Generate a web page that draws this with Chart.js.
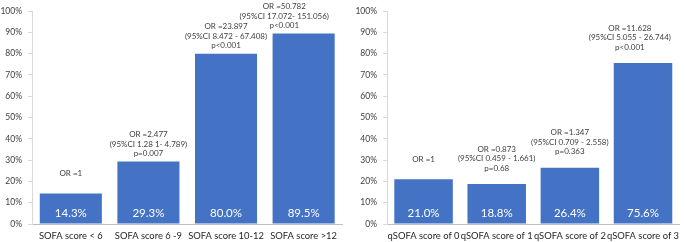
<!DOCTYPE html>
<html>
<head>
<meta charset="utf-8">
<script src="https://cdn.jsdelivr.net/npm/chart.js@4/dist/chart.umd.min.js"></script>
<style>
  html, body { margin: 0; padding: 0; background: #fff; }
  .box { position: absolute; top: 0; height: 242px; }
  #leftBox { left: 0; width: 343px; }
  #rightBox { left: 343px; width: 342px; }
</style>
</head>
<body>
<div class="box" id="leftBox"><canvas id="sofa"></canvas></div>
<div class="box" id="rightBox"><canvas id="qsofa"></canvas></div>
<script>
// données
const sofaLabels = ["SOFA score < 6", "SOFA score 6 -9", "SOFA score 10-12", "SOFA score >12"];
const sofaValues = [14.3, 29.3, 80.0, 89.5];
const sofaNotes = [
  ["OR =1"],
  ["OR =2.477", "(95%CI 1.28 1- 4.789)", "p=0.007"],
  ["OR =23.897", "(95%CI 8.472 - 67.408)", "p<0.001"],
  ["OR =50.782", "(95%CI 17.072- 151.056)", "p<0.001"]
];

const qsofaLabels = ["qSOFA score of 0", "qSOFA score of 1", "qSOFA score of 2", "qSOFA score of 3"];
const qsofaValues = [21.0, 18.8, 26.4, 75.6];
const qsofaNotes = [
  ["OR =1"],
  ["OR =0.873", "(95%CI 0.459 - 1.661)", "p=0.68"],
  ["OR =1.347", "(95%CI 0.709 - 2.558)", "p=0.363"],
  ["OR =11.628", "(95%CI 5.055 - 26.744)", "p<0.001"]
];

const yTicks = [0, 10, 20, 30, 40, 50, 60, 70, 80, 90, 100];

const FONT = "Lato, 'Noto Sans', sans-serif";

// plugin pour les textes au-dessus et dans les barres
const barText = {
  id: "barText",
  afterDatasetsDraw(chart, args, opts) {
    const ctx = chart.ctx;
    const meta = chart.getDatasetMeta(0);
    const values = chart.data.datasets[0].data;
    ctx.save();
    ctx.textAlign = "center";
    ctx.textBaseline = "middle";
    meta.data.forEach((bar, i) => {
      // valeur dans la barre
      ctx.fillStyle = "#ffffff";
      ctx.font = "11.5px " + FONT;
      ctx.fillText(values[i].toFixed(1) + "%", bar.x, bar.base - 10);
      // OR / IC / p
      const lines = opts.notes[i];
      ctx.fillStyle = "#404040";
      ctx.font = "8px " + FONT;
      const gap = lines.length === 1 ? 20 : opts.gap;
      // garder le bloc dans le canvas
      const w = Math.max(...lines.map(t => ctx.measureText(t).width));
      const x = Math.min(bar.x, chart.width - w / 2 - 14);
      lines.forEach((t, j) => {
        const y = bar.y - gap - (lines.length - 1 - j) * 9.5;
        ctx.fillText(t, x, y);
      });
    });
    ctx.restore();
  }
};

function makeChart(id, labels, values, notes, yWidth, gap) {
  return new Chart(document.getElementById(id), {
    type: "bar",
    data: {
      labels: labels,
      datasets: [{
        data: values,
        backgroundColor: "#4472c4",
        borderWidth: 0,
        barPercentage: 0.8,
        categoryPercentage: 1.0
      }]
    },
    options: {
      responsive: true,
      maintainAspectRatio: false,
      animation: false,
      layout: { padding: { top: 6, right: 0, bottom: 0, left: 0 } },
      plugins: {
        legend: { display: false },
        tooltip: { enabled: false },
        barText: { notes: notes, gap: gap }
      },
      scales: {
        x: {
          grid: { display: false, drawTicks: false },
          border: { display: true, color: "#bfbfbf", width: 1 },
          ticks: {
            color: "#262626",
            font: { family: FONT, size: 9.4 },
            padding: 6,
            maxRotation: 0,
            autoSkip: false
          },
          afterFit(scale) { scale.height = 18; }
        },
        y: {
          min: 0,
          max: 100,
          afterBuildTicks(scale) { scale.ticks = yTicks.map(v => ({ value: v })); },
          grid: { display: true, drawOnChartArea: false, drawTicks: true, tickLength: 4, color: "#d9d9d9" },
          border: { display: true, color: "#d9d9d9", width: 1 },
          ticks: {
            color: "#404040",
            font: { family: FONT, size: 8.5 },
            padding: 6,
            callback: v => v + "%"
          },
          afterFit(scale) { scale.width = yWidth; }
        }
      }
    },
    plugins: [barText]
  });
}

makeChart("sofa", sofaLabels, sofaValues, sofaNotes, 32, 8);
makeChart("qsofa", qsofaLabels, qsofaValues, qsofaNotes, 44, 16);
</script>
</body>
</html>
